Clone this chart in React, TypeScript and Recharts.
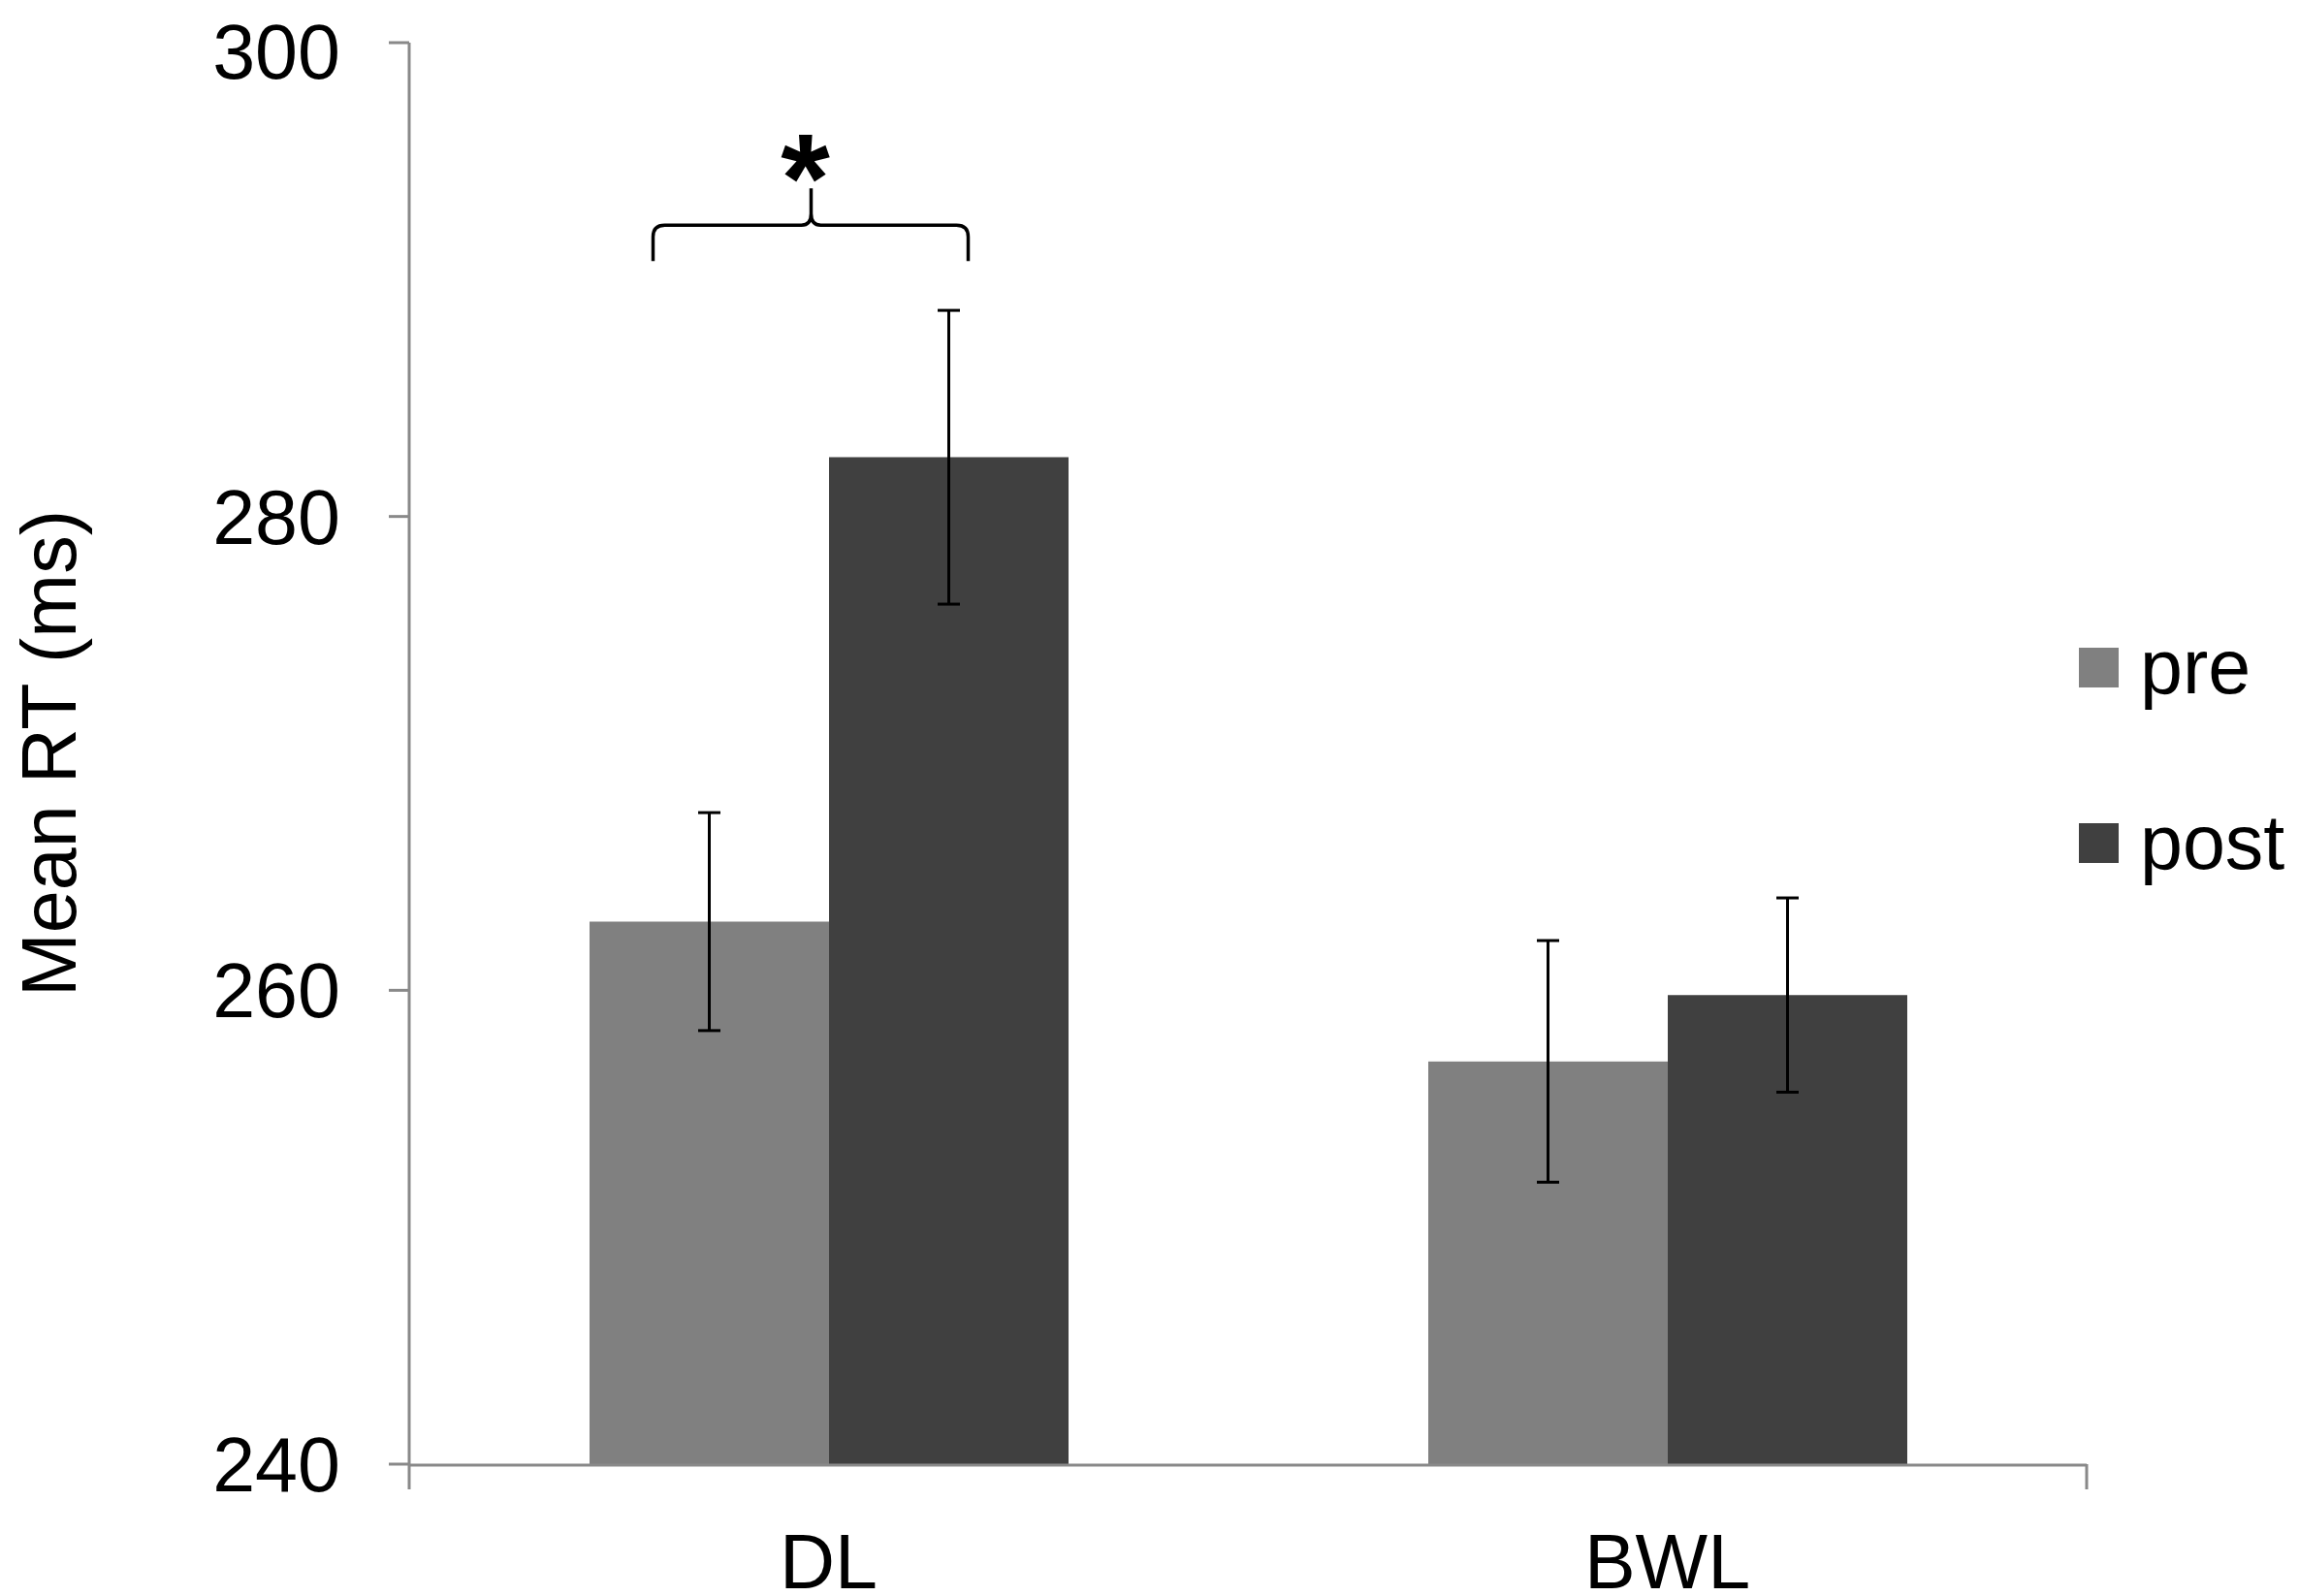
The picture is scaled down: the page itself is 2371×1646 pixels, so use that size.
import {
  Bar,
  BarChart,
  ErrorBar,
  Legend,
  ReferenceDot,
  XAxis,
  YAxis,
} from 'recharts';

const categories = ['DL', 'BWL'];
const seriesNames = ['pre', 'post'];
const preMeans = [262.9, 257.0];
const postMeans = [282.5, 259.8];
const preErrors = [4.6, 5.1];
const postErrors = [6.2, 4.1];
const yTicks = [240, 260, 280, 300];
const boundaryTicks = [0, 1, 2];
const bracketCategory = 'DL';
const bracketLevel = 292.3;
const bracketLabel = '*';

const FONT = '"Liberation Sans", Arial, sans-serif';
const AXIS_GREY = '#898989';
const COLORS = ['#808080', '#404040'];

const data = categories.map((c, i) => ({
  name: c,
  pre: preMeans[i],
  post: postMeans[i],
  preErr: preErrors[i],
  postErr: postErrors[i],
}));

// curly bracket over the DL pair, with the significance star on top
function Brace(props: any) {
  const { cx, cy } = props;
  const l = cx - 181;
  const r = cx + 144;
  const m = cx - 18;
  const drop = 37;
  const rise = 38;
  const rad = 12;
  const d = [
    `M ${l} ${cy + drop}`,
    `L ${l} ${cy + rad}`,
    `Q ${l} ${cy} ${l + rad} ${cy}`,
    `L ${m - 10} ${cy}`,
    `Q ${m} ${cy} ${m} ${cy - 12}`,
    `L ${m} ${cy - rise}`,
    `M ${m} ${cy - 12}`,
    `Q ${m} ${cy} ${m + 10} ${cy}`,
    `L ${r - rad} ${cy}`,
    `Q ${r} ${cy} ${r} ${cy + rad}`,
    `L ${r} ${cy + drop}`,
  ].join(' ');
  return (
    <g>
      <path d={d} fill="none" stroke="#000" strokeWidth={3.5} />
      <text
        x={cx - 24}
        y={cy - 3}
        textAnchor="middle"
        fontFamily={FONT}
        fontWeight="bold"
        fontSize={130}
        fill="#000"
      >
        {bracketLabel}
      </text>
    </g>
  );
}

function LegendBox() {
  return (
    <div style={{ fontFamily: FONT, fontSize: 79, color: '#000' }}>
      {seriesNames.map((s, i) => (
        <div
          key={s}
          style={{
            display: 'flex',
            alignItems: 'center',
            height: 80,
            lineHeight: '80px',
            marginBottom: i === 0 ? 101 : 0,
          }}
        >
          <span
            style={{
              display: 'inline-block',
              width: 41,
              height: 41,
              background: COLORS[i],
              marginRight: 22,
            }}
          />
          <span>{s}</span>
        </div>
      ))}
    </div>
  );
}

export default function App() {
  return (
    <div
      style={{
        width: 2355,
        height: 1638,
        marginBottom: -8,
        fontFamily: FONT,
        background: '#fff',
      }}
    >
      <BarChart
        width={2355}
        height={1638}
        data={data}
        margin={{ top: 36, right: 211, bottom: 0, left: 0 }}
        barGap={0}
        barSize={247}
      >
        <XAxis
          xAxisId="bounds"
          type="number"
          domain={[0, 2]}
          allowDataOverflow
          ticks={boundaryTicks}
          interval={0}
          height={1}
          axisLine={false}
          tickFormatter={() => ''}
          tickSize={26}
          tickLine={{ stroke: AXIS_GREY, strokeWidth: 3 }}
        />
        <XAxis
          xAxisId="cat"
          dataKey="name"
          height={135}
          axisLine={{ stroke: AXIS_GREY, strokeWidth: 3 }}
          tickLine={false}
          tickSize={25}
          tickMargin={46}
          tick={{ fill: '#000', fontSize: 79, fontFamily: FONT }}
        />
        <YAxis
          domain={[240, 300]}
          ticks={yTicks}
          width={414}
          axisLine={{ stroke: AXIS_GREY, strokeWidth: 3 }}
          tickLine={{ stroke: AXIS_GREY, strokeWidth: 3 }}
          tickSize={21}
          tickMargin={50}
          tick={{ fill: '#000', fontSize: 79, fontFamily: FONT }}
          label={{
            value: 'Mean RT (ms)',
            angle: -90,
            position: 'insideLeft',
            offset: 42,
            fill: '#000',
            fontSize: 79,
            fontFamily: FONT,
            style: { textAnchor: 'middle' },
          }}
        />
        <Legend
          layout="horizontal"
          align="center"
          verticalAlign="middle"
          content={() => <LegendBox />}
          wrapperStyle={{ left: 2136, top: 640, width: 'auto', right: 'auto' }}
        />
        <Bar xAxisId="cat" dataKey="pre" name="pre" fill={COLORS[0]} isAnimationActive={false}>
          <ErrorBar dataKey="preErr" width={11.5} strokeWidth={3} stroke="#000" direction="y" isAnimationActive={false} />
        </Bar>
        <Bar xAxisId="cat" dataKey="post" name="post" fill={COLORS[1]} isAnimationActive={false}>
          <ErrorBar dataKey="postErr" width={11.5} strokeWidth={3} stroke="#000" direction="y" isAnimationActive={false} />
        </Bar>
        <ReferenceDot
          xAxisId="cat"
          x={bracketCategory}
          y={bracketLevel}
          ifOverflow="visible"
          shape={Brace}
        />
      </BarChart>
    </div>
  );
}
